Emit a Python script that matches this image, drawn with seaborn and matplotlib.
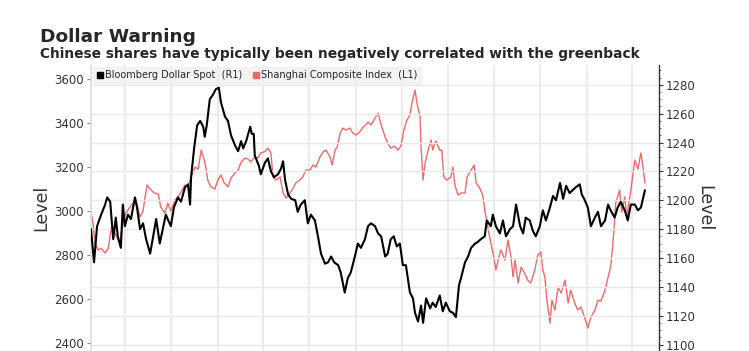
import numpy as np
import pandas as pd
import matplotlib
matplotlib.use("Agg")
import matplotlib.pyplot as plt
import matplotlib.dates as mdates
from matplotlib.lines import Line2D
from matplotlib import font_manager
import seaborn as sns

# dias desde 2016-04-25
start = pd.Timestamp("2016-04-25")

dollar_days = [0, 6, 12, 20, 28, 32, 38, 40, 44, 49, 53, 59, 63, 67, 73, 79, 87, 91, 97, 103,
               109, 117, 123, 129, 136, 142, 148, 158, 164, 172, 178, 186, 192, 196, 198, 204, 210, 216, 222, 225,
               229, 235, 241, 247, 253, 257, 261, 265, 271, 277, 285, 291, 297, 301, 307, 315, 318, 322, 324, 332,
               336, 344, 350, 356, 362, 370, 376, 380, 384, 390, 396, 404, 409, 415, 423, 429, 435, 443, 449, 455,
               463, 469, 475, 481, 489, 494, 502, 508, 514, 522, 528, 534, 542, 548, 554, 562, 568, 574, 582, 587,
               593, 599, 605, 611, 617, 623, 631, 637, 641, 647, 653, 657, 663, 671, 676, 682, 690, 696, 702, 710,
               716, 722, 728, 732, 740, 746, 752, 760, 765, 771, 779, 783, 791, 795, 801, 809, 815, 821, 829, 835,
               841, 849, 855, 860, 868, 874, 880, 888, 894, 900, 908, 914, 920, 928, 934, 940, 947, 953, 959, 967,
               971, 977, 983, 989, 997, 1003, 1009, 1017, 1023, 1028, 1036, 1042, 1048, 1056, 1062, 1068, 1076, 1082, 1088, 1096]
dollar_vals = [1180, 1157, 1182, 1190, 1197, 1202, 1199, 1190, 1173, 1188, 1175, 1167, 1197, 1182, 1190, 1187, 1202, 1195, 1180, 1184,
               1173, 1163, 1175, 1187, 1170, 1180, 1190, 1182, 1195, 1202, 1199, 1209, 1211, 1197, 1216, 1236, 1252, 1255, 1251, 1244,
               1252, 1270, 1273, 1277, 1278, 1268, 1263, 1258, 1255, 1245, 1238, 1234, 1241, 1236, 1241, 1251, 1246, 1246, 1231, 1224,
               1218, 1226, 1229, 1220, 1216, 1218, 1222, 1227, 1214, 1204, 1201, 1200, 1192, 1197, 1200, 1184, 1190, 1186, 1175, 1163,
               1156, 1157, 1161, 1157, 1155, 1150, 1136, 1146, 1150, 1161, 1170, 1167, 1173, 1182, 1184, 1182, 1177, 1175, 1161, 1163,
               1173, 1175, 1168, 1170, 1155, 1155, 1136, 1132, 1122, 1116, 1127, 1115, 1132, 1125, 1129, 1126, 1134, 1123, 1129, 1123,
               1122, 1119, 1141, 1146, 1157, 1161, 1167, 1170, 1171, 1173, 1175, 1186, 1182, 1190, 1182, 1177, 1186, 1175, 1180, 1182,
               1197, 1182, 1177, 1188, 1186, 1179, 1175, 1182, 1193, 1186, 1195, 1203, 1200, 1212, 1201, 1210, 1205, 1207, 1209, 1211,
               1204, 1200, 1195, 1182, 1188, 1192, 1182, 1186, 1197, 1193, 1188, 1195, 1199, 1193, 1186, 1197, 1197, 1193, 1195, 1207]

shanghai_days = [0, 4, 8, 14, 20, 28, 34, 40, 47, 57, 63, 69, 77, 83, 89, 97, 103, 107, 111, 119,
                 125, 133, 138, 146, 152, 158, 166, 172, 178, 186, 192, 198, 206, 212, 218, 224, 227, 231, 237, 245,
                 251, 257, 263, 271, 277, 285, 291, 297, 305, 311, 316, 324, 330, 336, 344, 350, 356, 360, 366, 374,
                 380, 386, 394, 400, 405, 413, 419, 425, 433, 439, 445, 453, 459, 465, 473, 477, 483, 487, 493, 498,
                 504, 512, 518, 524, 532, 538, 544, 548, 554, 562, 568, 574, 582, 587, 593, 601, 607, 613, 619, 625,
                 631, 635, 641, 645, 651, 653, 657, 661, 667, 673, 676, 682, 690, 694, 698, 704, 712, 716, 720, 726,
                 732, 740, 744, 752, 758, 762, 769, 775, 779, 785, 791, 797, 801, 807, 811, 819, 825, 831, 835, 839,
                 845, 851, 858, 864, 870, 878, 884, 890, 894, 898, 902, 908, 912, 918, 924, 930, 938, 944, 949, 957,
                 963, 969, 977, 983, 989, 997, 1003, 1009, 1017, 1023, 1028, 1032, 1036, 1038, 1046, 1050, 1056, 1060, 1068, 1074,
                 1076, 1082, 1088, 1092, 1096]
shanghai_vals = [2995, 2945, 2855, 2823, 2830, 2809, 2830, 2923, 2900, 2855, 2945, 2990, 3018, 3036, 3050, 2973, 3000, 3064, 3118, 3095,
                 3082, 3077, 3018, 2990, 3036, 3000, 3050, 3064, 3086, 3118, 3110, 3155, 3200, 3190, 3277, 3232, 3200, 3141, 3110, 3100,
                 3141, 3164, 3130, 3110, 3150, 3173, 3186, 3223, 3241, 3236, 3223, 3245, 3241, 3264, 3270, 3286, 3264, 3155, 3141, 3155,
                 3082, 3059, 3082, 3105, 3127, 3141, 3155, 3186, 3186, 3209, 3200, 3245, 3268, 3277, 3245, 3209, 3277, 3291, 3355, 3377,
                 3368, 3377, 3355, 3345, 3360, 3382, 3391, 3405, 3391, 3423, 3445, 3391, 3336, 3309, 3286, 3295, 3277, 3295, 3368, 3414,
                 3436, 3491, 3550, 3491, 3427, 3291, 3141, 3218, 3277, 3323, 3277, 3318, 3277, 3277, 3155, 3141, 3155, 3200, 3118, 3073,
                 3082, 3082, 3155, 3186, 3209, 3127, 3105, 3073, 3005, 2927, 2855, 2791, 2732, 2791, 2823, 2777, 2868, 2791, 2700, 2777,
                 2673, 2745, 2718, 2686, 2673, 2732, 2800, 2814, 2732, 2700, 2595, 2491, 2595, 2550, 2655, 2627, 2686, 2582, 2641, 2582,
                 2550, 2564, 2514, 2468, 2518, 2550, 2595, 2591, 2641, 2700, 2745, 2836, 2959, 3036, 3095, 2995, 3064, 2973, 3095, 3200,
                 3232, 3190, 3264, 3200, 3127]

title = "Dollar Warning"
subtitle = "Chinese shares have typically been negatively correlated with the greenback"
dollar_label = "Bloomberg Dollar Spot  (R1)"
shanghai_label = "Shanghai Composite Index  (L1)"
left_ticks = [2400, 2600, 2800, 3000, 3200, 3400, 3600]
right_ticks = [1100, 1120, 1140, 1160, 1180, 1200, 1220, 1240, 1260, 1280]

df_d = pd.DataFrame({"Fecha": start + pd.to_timedelta(dollar_days, unit="D"), "Nivel": dollar_vals})
df_s = pd.DataFrame({"Fecha": start + pd.to_timedelta(shanghai_days, unit="D"), "Nivel": shanghai_vals})

sns.set_theme(style="white")
instaladas = {f.name for f in font_manager.fontManager.ttflist}
narrow = "Liberation Sans Narrow" if "Liberation Sans Narrow" in instaladas else "DejaVu Sans"
plt.rcParams["font.family"] = [narrow, "DejaVu Sans"]

fig = plt.figure(figsize=(7.49, 3.51), dpi=100)
ax = fig.add_axes([0.1215, 0.0, 0.7585, 0.815])
ax2 = ax.twinx()

sns.lineplot(data=df_s, x="Fecha", y="Nivel", ax=ax, color="#ee6a6a", linewidth=1.0)
sns.lineplot(data=df_d, x="Fecha", y="Nivel", ax=ax2, color="black", linewidth=1.5)

ax.set_ylim(2364, 3664)
ax2.set_ylim(1095.5, 1293.8)
ax.set_xlim(start, start + pd.Timedelta(days=1124))

ax.set_yticks(left_ticks)
ax2.set_yticks(right_ticks)
ax2.yaxis.set_minor_locator(plt.MultipleLocator(5))

ax.xaxis.set_major_locator(mdates.MonthLocator(bymonth=(1, 4, 7, 10)))
ax.set_xticklabels([])
ax.tick_params(axis="x", length=0)
ax.grid(axis="x", color="#e8e8e8", linewidth=1.2)
ax2.grid(axis="y", color="#e8e8e8", linewidth=1.0)
ax2.set_axisbelow(True)

ax.tick_params(axis="y", left=True, length=3, width=0.8, color="#888888", labelsize=8.5, labelcolor="#333333", pad=2)
ax2.tick_params(axis="y", which="major", right=True, length=3, width=0.8, color="#333333", labelsize=8.5, labelcolor="#333333", pad=2)
ax2.tick_params(axis="y", which="minor", right=True, length=1.5, width=0.6, color="#555555")

ax.set_xlabel("")
ax.set_ylabel("Level", fontsize=12.5, color="#333333")
ax2.set_ylabel("Level", fontsize=12.5, color="#333333", rotation=270, va="center")
ax.yaxis.set_label_coords(-0.072, 0.5)
ax2.yaxis.set_label_coords(1.08, 0.5)

for s in ["top", "bottom"]:
    ax.spines[s].set_visible(False)
    ax2.spines[s].set_visible(False)
ax.spines["left"].set_color("#dddddd")
ax.spines["right"].set_visible(False)
ax2.spines["left"].set_visible(False)
ax2.spines["right"].set_color("#333333")
ax2.spines["right"].set_linewidth(1.0)

handles = [Line2D([], [], marker="s", linestyle="", color="black", markersize=4.5),
           Line2D([], [], marker="s", linestyle="", color="#ee6a6a", markersize=4.5)]
leg = ax2.legend(handles, [dollar_label, shanghai_label], loc="upper left", ncol=2,
                 fontsize=7, frameon=True, fancybox=False, borderpad=0.35, handletextpad=0.1,
                 columnspacing=1.0, borderaxespad=0.2, handlelength=0.8, bbox_to_anchor=(0.0, 1.0))
leg.get_frame().set_facecolor("#f0f0f0")
leg.get_frame().set_edgecolor("#f0f0f0")

t1 = fig.text(0.053, 0.880, title, fontsize=15, fontweight="bold", va="baseline")
t2 = fig.text(0.053, 0.835, subtitle, fontsize=12, fontweight="bold", va="baseline")

# ajustar el ancho de los titulos al de la referencia
fig.canvas.draw()
r = fig.canvas.get_renderer()
for t, ancho in [(t1, 156), (t2, 598)]:
    w = t.get_window_extent(r).width
    t.set_fontsize(t.get_fontsize() * ancho / w)

fig.savefig("out.png", dpi=100, facecolor="white")
